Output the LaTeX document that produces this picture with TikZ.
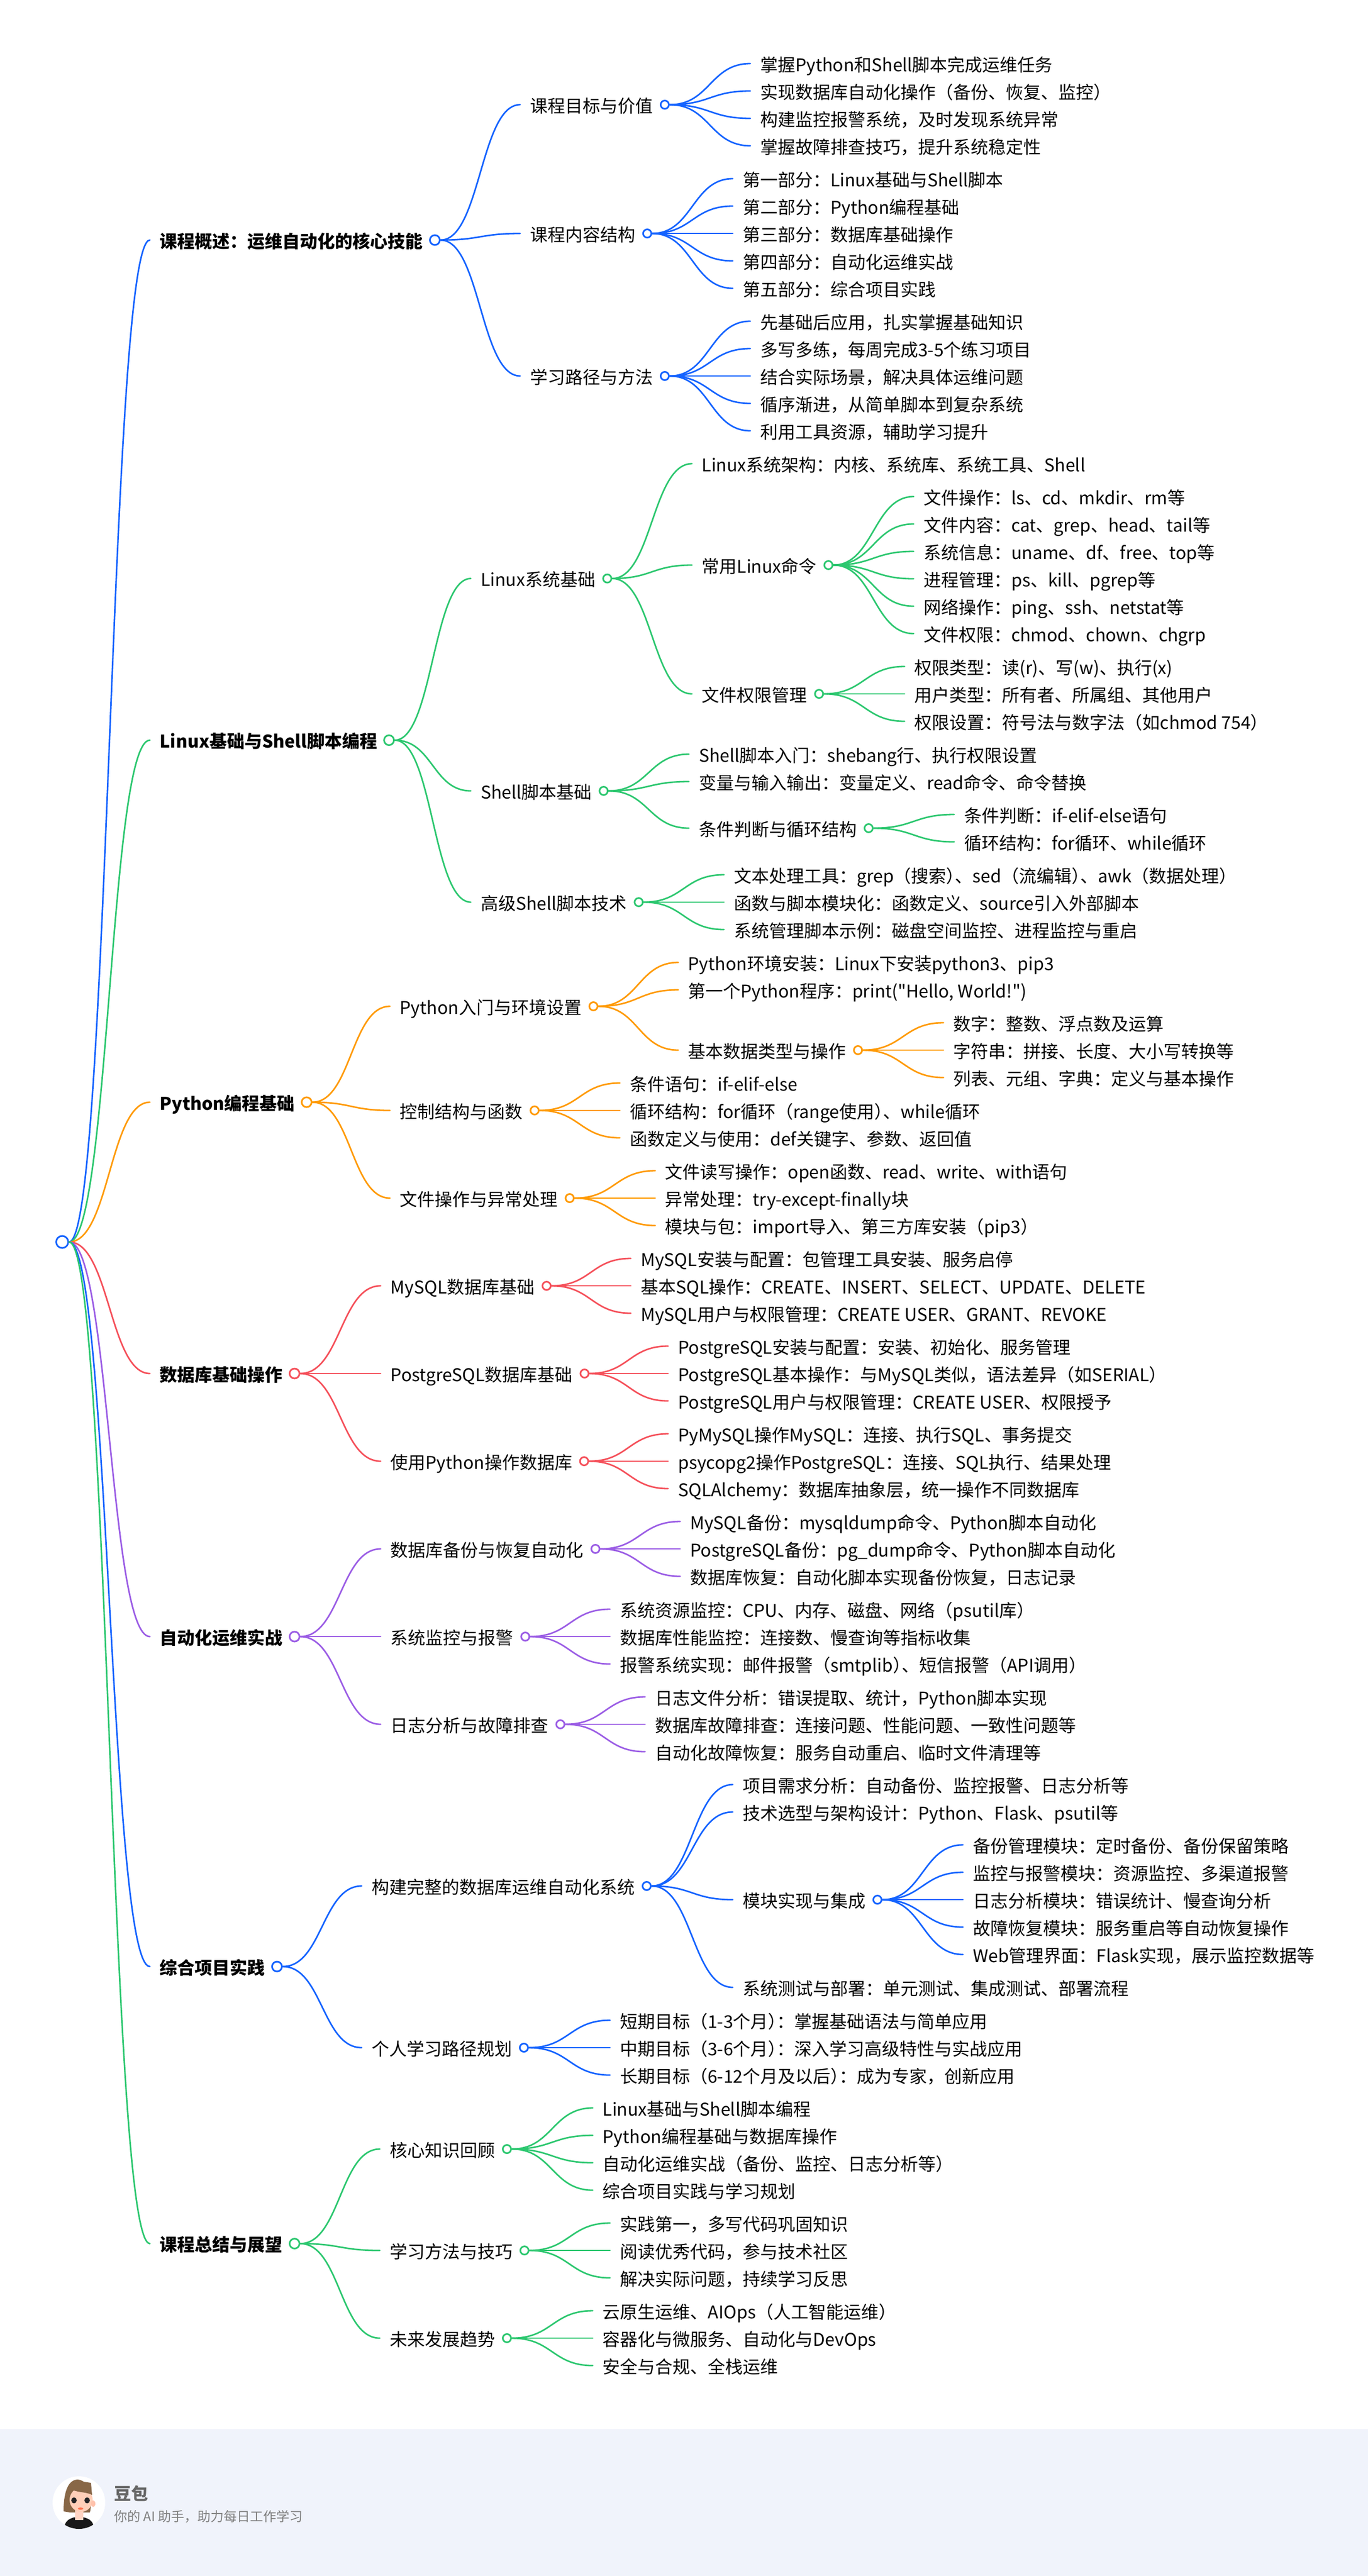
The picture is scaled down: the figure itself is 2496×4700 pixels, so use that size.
\documentclass[tikz,border=0pt]{standalone}
\usepackage{fontspec}
\setmainfont[Ligatures=TeXOff]{Noto Sans CJK SC}
\usetikzlibrary{calc}
\definecolor{cblue}{HTML}{1463FF}
\definecolor{cgreen}{HTML}{2CC76F}
\definecolor{corange}{HTML}{FF9A00}
\definecolor{cred}{HTML}{F5505A}
\definecolor{cpurple}{HTML}{9B5DE5}
\definecolor{footbg}{HTML}{F0F3FB}
\colorlet{mm}{cblue}
\newcommand\tc{\hspace{-16pt}}
\tikzset{
 x=1pt,y=-1pt,
 lbl/.style={inner sep=0pt,text height=32pt,text depth=4pt,anchor=west,font=\fontsize{32}{36}\selectfont,text=black},
 toplbl/.style={lbl,font=\fontsize{32}{36}\selectfont\bfseries},
 dot/.style={circle,draw=mm,fill=white,line width=3pt,inner sep=0pt,minimum size=15pt},
 bigdot/.style={dot,minimum size=18pt},
 rootdot/.style={dot,minimum size=22pt},
 link/.style={draw=mm,line width=2.8pt,line cap=round},
}
\newcommand\lnk[2]{\draw[link] let \p1=(#1),\p2=(#2) in (\p1) .. controls ({\x1/2+\x2/2},\y1) and ({\x1/2+\x2/2},\y2) .. (\p2);}
% id parent x y(line) text
\newcommand\leaf[5]{\node[lbl] (#1) at (#3,#4) {#5};
 \coordinate (#1-in) at ($(#1.west)+(-18pt,0pt)$);
 \lnk{#2-c.east}{#1-in}}
\newcommand\branch[5]{\leaf{#1}{#2}{#3}{#4}{#5}
 \node[dot] (#1-c) at ($(#1.east)+(21.5pt,0pt)$) {};}
\newcommand\topic[5]{\node[toplbl] (#1) at (#3,#4) {#5};
 \coordinate (#1-in) at ($(#1.west)+(-18pt,0pt)$);
 \lnk{#2-c.east}{#1-in}
 \node[bigdot] (#1-c) at ($(#1.east)+(21.5pt,0pt)$) {};}
\begin{document}
\begin{tikzpicture}
\useasboundingbox (0,0) rectangle (2496,4700);
\fill[white] (0,0) rectangle (2496,4700);
\fill[footbg] (0,4432) rectangle (2496,4700);
\node[rootdot] (root-c) at (113.5,2266) {};

% ---------- 1
\colorlet{mm}{cblue}
\topic{a}{root}{291.5}{438}{课程概述：运维自动化的核心技能}
\branch{a1}{a}{967}{191}{课程目标与价值}
\leaf{a11}{a1}{1387}{116}{掌握Python和Shell脚本完成运维任务}
\leaf{a12}{a1}{1387}{166}{实现数据库自动化操作（备份、恢复、监控）}
\leaf{a13}{a1}{1387}{216}{构建监控报警系统，及时发现系统异常}
\leaf{a14}{a1}{1387}{266}{掌握故障排查技巧，提升系统稳定性}
\branch{a2}{a}{967}{426}{课程内容结构}
\leaf{a21}{a2}{1355}{326}{第一部分：Linux基础与Shell脚本}
\leaf{a22}{a2}{1355}{376}{第二部分：Python编程基础}
\leaf{a23}{a2}{1355}{426}{第三部分：数据库基础操作}
\leaf{a24}{a2}{1355}{476}{第四部分：自动化运维实战}
\leaf{a25}{a2}{1355}{526}{第五部分：综合项目实践}
\branch{a3}{a}{967}{686}{学习路径与方法}
\leaf{a31}{a3}{1387}{586}{先基础后应用，扎实掌握基础知识}
\leaf{a32}{a3}{1387}{636}{多写多练，每周完成3-5个练习项目}
\leaf{a33}{a3}{1387}{686}{结合实际场景，解决具体运维问题}
\leaf{a34}{a3}{1387}{736}{循序渐进，从简单脚本到复杂系统}
\leaf{a35}{a3}{1387}{786}{利用工具资源，辅助学习提升}

% ---------- 2
\colorlet{mm}{cgreen}
\topic{b}{root}{291.5}{1350.5}{Linux基础与Shell脚本编程}
\branch{b1}{b}{877}{1055.5}{Linux系统基础}
\leaf{b11}{b1}{1280.5}{846}{Linux系统架构：内核、系统库、系统工具、Shell}
\branch{b12}{b1}{1280.5}{1031}{常用Linux命令}
\leaf{b121}{b12}{1685}{906}{文件操作：ls、cd、mkdir、rm等}
\leaf{b122}{b12}{1685}{956}{文件内容：cat、grep、head、tail等}
\leaf{b123}{b12}{1685}{1006}{系统信息：uname、df、free、top等}
\leaf{b124}{b12}{1685}{1056}{进程管理：ps、kill、pgrep等}
\leaf{b125}{b12}{1685}{1106}{网络操作：ping、ssh、netstat等}
\leaf{b126}{b12}{1685}{1156}{文件权限：chmod、chown、chgrp}
\branch{b13}{b1}{1280.5}{1266}{文件权限管理}
\leaf{b131}{b13}{1668.5}{1216}{权限类型：读(r)、写(w)、执行(x)}
\leaf{b132}{b13}{1668.5}{1266}{用户类型：所有者、所属组、其他用户}
\leaf{b133}{b13}{1668.5}{1316}{权限设置：符号法与数字法（如chmod 754）}
\branch{b2}{b}{877}{1443}{Shell脚本基础}
\leaf{b21}{b2}{1275}{1376}{Shell脚本入门：shebang行、执行权限设置}
\leaf{b22}{b2}{1275}{1426}{变量与输入输出：变量定义、read命令、命令替换}
\branch{b23}{b2}{1275}{1511}{条件判断与循环结构}
\leaf{b231}{b23}{1759}{1486}{条件判断：if-elif-else语句}
\leaf{b232}{b23}{1759}{1536}{循环结构：for循环、while循环}
\branch{b3}{b}{877}{1646}{高级Shell脚本技术}
\leaf{b31}{b3}{1339}{1596}{文本处理工具：grep（搜索）\tc、sed（流编辑）\tc、awk（数据处理）}
\leaf{b32}{b3}{1339}{1646}{函数与脚本模块化：函数定义、source引入外部脚本}
\leaf{b33}{b3}{1339}{1696}{系统管理脚本示例：磁盘空间监控、进程监控与重启}

% ---------- 3
\colorlet{mm}{corange}
\topic{c}{root}{291.5}{2011}{Python编程基础}
\branch{c1}{c}{729.5}{1836}{Python入门与环境设置}
\leaf{c11}{c1}{1255.5}{1756}{Python环境安装：Linux下安装python3、pip3}
\leaf{c12}{c1}{1255.5}{1806}{第一个Python程序：print("Hello, World!")}
\branch{c13}{c1}{1255.5}{1916}{基本数据类型与操作}
\leaf{c131}{c13}{1739.5}{1866}{数字：整数、浮点数及运算}
\leaf{c132}{c13}{1739.5}{1916}{字符串：拼接、长度、大小写转换等}
\leaf{c133}{c13}{1739.5}{1966}{列表、元组、字典：定义与基本操作}
\branch{c2}{c}{729.5}{2026}{控制结构与函数}
\leaf{c21}{c2}{1149}{1976}{条件语句：if-elif-else}
\leaf{c22}{c2}{1149}{2026}{循环结构：for循环（range使用）\tc、while循环}
\leaf{c23}{c2}{1149}{2076}{函数定义与使用：def关键字、参数、返回值}
\branch{c3}{c}{729.5}{2186}{文件操作与异常处理}
\leaf{c31}{c3}{1213.5}{2136}{文件读写操作：open函数、read、write、with语句}
\leaf{c32}{c3}{1213.5}{2186}{异常处理：try-except-finally块}
\leaf{c33}{c3}{1213.5}{2236}{模块与包：import导入、第三方库安装（pip3）}

% ---------- 4
\colorlet{mm}{cred}
\topic{d}{root}{291.5}{2506}{数据库基础操作}
\branch{d1}{d}{712.5}{2346}{MySQL数据库基础}
\leaf{d11}{d1}{1169}{2296}{MySQL安装与配置：包管理工具安装、服务启停}
\leaf{d12}{d1}{1169}{2346}{基本SQL操作：CREATE、INSERT、SELECT、UPDATE、DELETE}
\leaf{d13}{d1}{1169}{2396}{MySQL用户与权限管理：CREATE USER、GRANT、REVOKE}
\branch{d2}{d}{712.5}{2506}{PostgreSQL数据库基础}
\leaf{d21}{d2}{1237}{2456}{PostgreSQL安装与配置：安装、初始化、服务管理}
\leaf{d22}{d2}{1237}{2506}{PostgreSQL基本操作：与MySQL类似，语法差异（如SERIAL）}
\leaf{d23}{d2}{1237}{2556}{PostgreSQL用户与权限管理：CREATE USER、权限授予}
\branch{d3}{d}{712.5}{2666}{使用Python操作数据库}
\leaf{d31}{d3}{1237}{2616}{PyMySQL操作MySQL：连接、执行SQL、事务提交}
\leaf{d32}{d3}{1237}{2666}{psycopg2操作PostgreSQL：连接、SQL执行、结果处理}
\leaf{d33}{d3}{1237}{2716}{SQLAlchemy：数据库抽象层，统一操作不同数据库}

% ---------- 5
\colorlet{mm}{cpurple}
\topic{e}{root}{291.5}{2986}{自动化运维实战}
\branch{e1}{e}{712.5}{2826}{数据库备份与恢复自动化}
\leaf{e11}{e1}{1259}{2776}{MySQL备份：mysqldump命令、Python脚本自动化}
\leaf{e12}{e1}{1259}{2826}{PostgreSQL备份：pg\_dump命令、Python脚本自动化}
\leaf{e13}{e1}{1259}{2876}{数据库恢复：自动化脚本实现备份恢复，日志记录}
\branch{e2}{e}{712.5}{2986}{系统监控与报警}
\leaf{e21}{e2}{1131}{2936}{系统资源监控：CPU、内存、磁盘、网络（psutil库）}
\leaf{e22}{e2}{1131}{2986}{数据库性能监控：连接数、慢查询等指标收集}
\leaf{e23}{e2}{1131}{3036}{报警系统实现：邮件报警（smtplib）\tc、短信报警（API调用）}
\branch{e3}{e}{712.5}{3146}{日志分析与故障排查}
\leaf{e31}{e3}{1195}{3096}{日志文件分析：错误提取、统计，Python脚本实现}
\leaf{e32}{e3}{1195}{3146}{数据库故障排查：连接问题、性能问题、一致性问题等}
\leaf{e33}{e3}{1195}{3196}{自动化故障恢复：服务自动重启、临时文件清理等}

% ---------- 6
\colorlet{mm}{cblue}
\topic{f}{root}{291.5}{3588}{综合项目实践}
\branch{f1}{f}{678}{3441}{构建完整的数据库运维自动化系统}
\leaf{f11}{f1}{1355}{3256}{项目需求分析：自动备份、监控报警、日志分析等}
\leaf{f12}{f1}{1355}{3306}{技术选型与架构设计：Python、Flask、psutil等}
\branch{f13}{f1}{1355}{3466}{模块实现与集成}
\leaf{f131}{f13}{1775}{3366}{备份管理模块：定时备份、备份保留策略}
\leaf{f132}{f13}{1775}{3416}{监控与报警模块：资源监控、多渠道报警}
\leaf{f133}{f13}{1775}{3466}{日志分析模块：错误统计、慢查询分析}
\leaf{f134}{f13}{1775}{3516}{故障恢复模块：服务重启等自动恢复操作}
\leaf{f135}{f13}{1775}{3566}{Web管理界面：Flask实现，展示监控数据等}
\leaf{f14}{f1}{1355}{3626}{系统测试与部署：单元测试、集成测试、部署流程}
\branch{f2}{f}{678}{3736}{个人学习路径规划}
\leaf{f21}{f2}{1131}{3686}{短期目标（1-3个月）\tc：掌握基础语法与简单应用}
\leaf{f22}{f2}{1131}{3736}{中期目标（3-6个月）\tc：深入学习高级特性与实战应用}
\leaf{f23}{f2}{1131}{3786}{长期目标（6-12个月及以后）\tc：成为专家，创新应用}

% ---------- 7
\colorlet{mm}{cgreen}
\topic{g}{root}{291.5}{4093.5}{课程总结与展望}
\branch{g1}{g}{711}{3921}{核心知识回顾}
\leaf{g11}{g1}{1099.5}{3846}{Linux基础与Shell脚本编程}
\leaf{g12}{g1}{1099.5}{3896}{Python编程基础与数据库操作}
\leaf{g13}{g1}{1099.5}{3946}{自动化运维实战（备份、监控、日志分析等）}
\leaf{g14}{g1}{1099.5}{3996}{综合项目实践与学习规划}
\branch{g2}{g}{711}{4106}{学习方法与技巧}
\leaf{g21}{g2}{1131}{4056}{实践第一，多写代码巩固知识}
\leaf{g22}{g2}{1131}{4106}{阅读优秀代码，参与技术社区}
\leaf{g23}{g2}{1131}{4156}{解决实际问题，持续学习反思}
\branch{g3}{g}{711}{4266}{未来发展趋势}
\leaf{g31}{g3}{1099.5}{4216}{云原生运维、AIOps（人工智能运维）}
\leaf{g32}{g3}{1099.5}{4266}{容器化与微服务、自动化与DevOps}
\leaf{g33}{g3}{1099.5}{4316}{安全与合规、全栈运维}

% ---------- footer
\node[inner sep=0pt,anchor=west,text=black!60,font=\fontsize{31}{36}\selectfont\bfseries] (brand) at (208,4549) {豆包};
\node[inner sep=0pt,anchor=west,text=black!50,font=\fontsize{24}{28}\selectfont] (slogan) at (208,4592) {你的 AI 助手，助力每日工作学习};
\fill[white] (144,4566) circle (48);
\begin{scope}
 \clip (144,4566) circle (48);
 \fill[black!90] (117,4614) .. controls (118,4600) and (125,4596) .. (135,4593) -- (153,4593) .. controls (164,4596) and (170,4600) .. (172,4614) -- cycle;
 \fill[brown!60!black!85] (142,4524) .. controls (125,4524) and (116,4545) .. (116,4582) -- (128,4584) -- (164,4584) .. controls (170,4560) and (165,4526) .. (142,4524) -- cycle;
 \fill[orange!15!white!90!red] (137,4580) rectangle (152,4598);
 \fill[orange!20!white!90!red] (148,4561) ellipse (21 and 22);
 \fill[orange!20!white!85!red] (170,4568) ellipse (4 and 6);
 \fill[brown!60!black!85] (128,4540) .. controls (136,4548) and (158,4546) .. (168,4552) -- (166,4530) -- (140,4526) -- cycle;
 \fill[black!85] (135,4562) ellipse (5 and 5.5);
 \fill[black!85] (159,4562) ellipse (5 and 5.5);
 \fill[red!60!orange!70] (147,4577) ellipse (5 and 2);
\end{scope}
\end{tikzpicture}
\end{document}
